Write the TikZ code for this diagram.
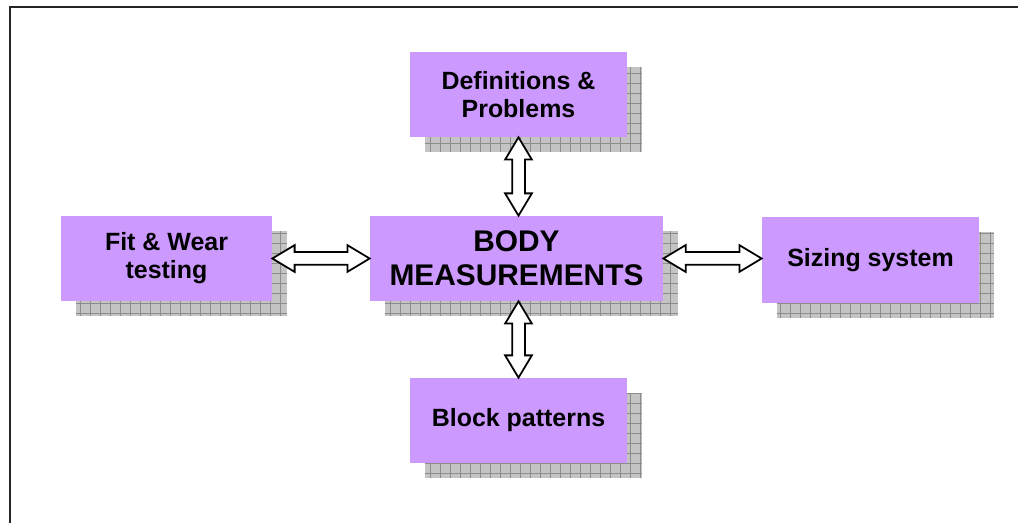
\documentclass[tikz,border=0pt]{standalone}
\usepackage{fontspec}
\setmainfont{Liberation Sans}
\usetikzlibrary{shapes.arrows,calc,backgrounds}

\definecolor{boxlilac}{RGB}{204,153,255}
\definecolor{shadowgray}{RGB}{196,196,196}
\definecolor{gridgray}{RGB}{140,140,140}

\tikzset{
  topicbox/.style={fill=boxlilac, minimum width=4.34cm, minimum height=1.70cm,
    align=center, inner sep=2pt, font=\fontsize{14.2}{16}\selectfont\bfseries},
  mainbox/.style={topicbox, minimum width=5.86cm, font=\fontsize{17}{19.5}\selectfont\bfseries},
  dblarrow/.style={double arrow, draw=black, fill=white, line width=1pt,
    inner xsep=0pt, inner ysep=0.11cm, double arrow head extend=0.14cm,
    double arrow tip angle=62, anchor=center},
  shadowfill/.style={fill=shadowgray},
  shadowgrid/.style={draw=gridgray, line width=0.5pt, step=0.2}
}

% grey grid shadow offset down-right of a box
\newcommand{\boxshadow}[1]{%
  \fill[shadowfill] ([shift={(0.3,-0.3)}]#1.south west) rectangle ([shift={(0.3,-0.3)}]#1.north east);
  \draw[shadowgrid] ([shift={(0.3,-0.3)}]#1.south west) grid ([shift={(0.3,-0.3)}]#1.north east);
}

% block arrow with two heads between two points
\newcommand{\linkarrow}[2]{%
  \path let \p1=(#1), \p2=(#2), \n1={veclen(\x2-\x1,\y2-\y1)}, \n2={atan2(\y2-\y1,\x2-\x1)} in
    node[dblarrow, minimum height=\n1, rotate=\n2] at ($(#1)!0.5!(#2)$) {};
}

\begin{document}
\begin{tikzpicture}
  \useasboundingbox (0,0) rectangle (20.36,10.46);

  % frame
  \draw[line width=1.1pt, black!85] (0.2,0) -- (0.2,10.32) -- (20.36,10.32);

  \node[topicbox] (defs) at (10.37,8.57) {Definitions \&\\Problems};
  \node[mainbox] (body) at (10.33,5.29) {BODY\\MEASUREMENTS};
  \node[topicbox, minimum width=4.22cm] (fit) at (3.33,5.29) {Fit \& Wear\\testing};
  \node[topicbox, minimum height=1.72cm] (sizing) at (17.41,5.26) {Sizing system};
  \node[topicbox] (block) at (10.37,2.05) {Block patterns};

  \begin{scope}[on background layer]
    \boxshadow{defs}
    \boxshadow{body}
    \boxshadow{fit}
    \boxshadow{sizing}
    \boxshadow{block}
  \end{scope}

  \coordinate (bodytop) at (defs.south |- body.north);
  \coordinate (bodybottom) at (block.north |- body.south);
  \coordinate (sizingleft) at (body.east -| sizing.west);

  \linkarrow{defs.south}{bodytop}
  \linkarrow{fit.east}{body.west}
  \linkarrow{body.east}{sizingleft}
  \linkarrow{bodybottom}{block.north}
\end{tikzpicture}
\end{document}
